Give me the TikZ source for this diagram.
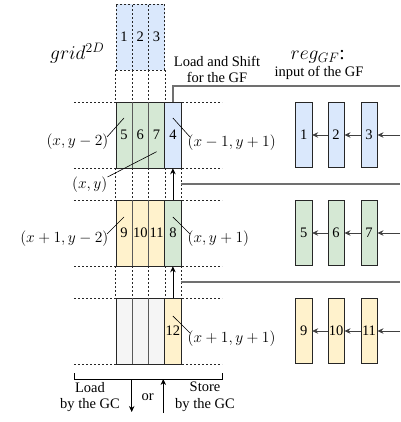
\RequirePackage{fix-cm}
\documentclass[tikz,border=0pt]{standalone}
\usepackage{fontspec}
\setmainfont{Liberation Serif}
\usetikzlibrary{arrows.meta,calc}
\definecolor{cblue}{HTML}{DAE8FC}
\definecolor{cgreen}{HTML}{D5E8D4}
\definecolor{cyellow}{HTML}{FFF2CC}
\definecolor{cgray}{HTML}{F5F5F5}
\definecolor{wirecol}{HTML}{707070}
\begin{document}
\begin{tikzpicture}[x=1pt,y=-1pt,
  cell/.style={draw=black!85, line width=0.6pt, minimum width=16.3pt, minimum height=66pt,
    inner sep=0pt, font=\fontsize{14.5}{16}\selectfont},
  topcell/.style={cell, dash pattern=on 2pt off 2pt},
  regcell/.style={cell, minimum height=65.5pt},
  sepline/.style={draw=black!65, line width=1.4pt},
  gridline/.style={black!85, line width=0.6pt, dash pattern=on 2pt off 2pt},
  wire/.style={draw=wirecol, line width=1.2pt},
  arr/.style={-{Stealth[length=6pt,width=5.5pt]}, line width=0.8pt},
  lead/.style={line width=0.6pt},
  mlab/.style={font=\fontsize{15.5}{18}\selectfont, inner sep=0pt},
  tlab/.style={font=\fontsize{14.5}{15.6}\selectfont, align=center, inner sep=0pt},
  biglab/.style={font=\fontsize{19.5}{22}\selectfont, inner sep=0pt}]
\useasboundingbox (0,0) rectangle (400,422);

% horizontal guide lines of the grid rows
\foreach \yy in {102,168,200,266,298,364}
  \draw[gridline] (74,\yy) -- (222,\yy);

% row above the window (dashed)
\node[topcell, fill=cblue] (b1) at (124,37) {1};
\node[topcell, fill=cblue] (b2) at (140.3,37) {2};
\node[topcell, fill=cblue] (b3) at (156.6,37) {3};

% first row
\node[cell, fill=cgreen] (r5) at (124,135) {5};
\node[cell, fill=cgreen] (r6) at (140.3,135) {6};
\node[cell, fill=cgreen] (r7) at (156.6,135) {7};
\node[cell, fill=cblue]  (r4) at (172.9,135) {4};
% second row
\node[cell, fill=cyellow] (r9)  at (124,233) {9};
\node[cell, fill=cyellow] (r10) at (140.3,233) {10};
\node[cell, fill=cyellow] (r11) at (156.6,233) {11};
\node[cell, fill=cgreen]  (r8)  at (172.9,233) {8};
% third row
\node[cell, fill=cgray] (s1) at (124,331) {};
\node[cell, fill=cgray] (s2) at (140.3,331) {};
\node[cell, fill=cgray] (s3) at (156.6,331) {};
\node[cell, fill=cyellow] (r12) at (172.9,331) {12};

% thicker separators inside the rows
\foreach \a in {r5,r6,r9,r10,s1,s2}
  \draw[sepline] (\a.north east) -- (\a.south east);

% dashed column lines between the rows
\draw[gridline] (b1.south west) -- (r5.north west);
\foreach \a/\b in {b1/r5,b2/r6,b3/r7}
  \draw[gridline] (\a.south east) -- (\b.north east);
\draw[gridline] (r5.south west) -- (r9.north west);
\foreach \a/\b in {r5/r9,r6/r10,r7/r11,r4/r8}
  \draw[gridline] (\a.south east) -- (\b.north east);
\draw[gridline] (r9.south west) -- (s1.north west);
\foreach \a/\b in {r9/s1,r10/s2,r11/s3,r8/r12}
  \draw[gridline] (\a.south east) -- (\b.north east);

% shifts between the rows
\draw[arr] (r8.north) -- (r4.south);
\draw[arr] (r12.north) -- (r8.south);

% registers of the GF
\node[regcell, fill=cblue] (g1) at (303.7,135) {1};
\node[regcell, fill=cblue] (g2) at (336,135) {2};
\node[regcell, fill=cblue] (g3) at (369,135) {3};
\node[regcell, fill=cgreen] (g5) at (303.7,233) {5};
\node[regcell, fill=cgreen] (g6) at (336,233) {6};
\node[regcell, fill=cgreen] (g7) at (369,233) {7};
\node[regcell, fill=cyellow] (g9)  at (303.7,331) {9};
\node[regcell, fill=cyellow] (g10) at (336,331) {10};
\node[regcell, fill=cyellow] (g11) at (369,331) {11};

\coordinate (in1) at (400,135);
\coordinate (in2) at (400,233);
\coordinate (in3) at (400,331);
\foreach \i/\c/\b/\a in {in1/g3/g2/g1,in2/g7/g6/g5,in3/g11/g10/g9}{
  \draw[arr, draw=black!75] (\i) -- (\c.west -| \c.east);
  \draw[arr, draw=black!75] (\c.west) -- (\b.east);
  \draw[arr, draw=black!75] (\b.west) -- (\a.east);
}

% wires to the GF
\coordinate (w1) at (400,86);
\coordinate (w2s) at ($(r4.south east)!0.5!(r8.north east)$);
\coordinate (w2) at (400,184);
\coordinate (w3s) at ($(r8.south east)!0.5!(r12.north east)$);
\coordinate (w3) at (400,282);
\draw[wire] (r4.north) |- (w1);
\draw[wire] (w2s) -- (w2 |- w2s);
\draw[wire] (w3s) -- (w3 |- w3s);

% coordinate labels
\node[mlab, anchor=east] (l1) at (108.5,142) {$(x,y-2)$};
\node[mlab, anchor=west] (l2) at (187.5,143) {$(x-1,y+1)$};
\node[mlab, anchor=east] (l3) at (107.5,185) {$(x,y)$};
\node[mlab, anchor=east] (l4) at (108.5,239) {$(x+1,y-2)$};
\node[mlab, anchor=west] (l5) at (187.5,239) {$(x,y+1)$};
\node[mlab, anchor=west] (l6) at (187.5,339) {$(x+1,y+1)$};
\draw[lead] ($(r5.center)+(0,-17)$) -- ($(l1.east)+(-1.5,-5)$);
\draw[lead] ($(r4.center)+(0,-17)$) -- ($(l2.west)+(2.5,-6)$);
\draw[lead] ($(r7.center)+(0,16.7)$) -- ($(l3.east)+(0,-8)$);
\draw[lead] ($(r9.center)+(0,-16)$) -- ($(l4.east)+(-1.5,-5)$);
\draw[lead] ($(r8.center)+(0,-16)$) -- ($(l5.west)+(2.5,-5)$);
\draw[lead] ($(r12.center)+(0,-15)$) -- ($(l6.west)+(2.5,-6)$);

% titles
\node[biglab, anchor=base west] (t1) at (50,60) {$grid^{2D}$};
\node[biglab, anchor=base west] (t2) at (290.5,59.5) {$reg_{GF}$:};
\node[tlab] (t3) at (217,69.5) {Load and Shift\\for the GF};
\node[tlab] (t4) at (319,73.3) {input of the GF};

% load / store by the GC
\coordinate (k1) at (74,373);
\coordinate (k2) at (74,379);
\coordinate (k3) at (222,379);
\coordinate (k4) at (222,373);
\draw[line width=0.8pt] (k1) -- (k2) -- (k3) -- (k4);
\coordinate (d1) at (131.7,379);
\coordinate (d2) at (131.7,412);
\coordinate (u1) at (163.3,413);
\coordinate (u2) at (163.3,379);
\draw[arr] (d1) -- (d2);
\draw[arr] (u1) -- (u2);
\node[tlab, font=\fontsize{14.5}{16.7}\selectfont] (t5) at (90,397) {Load\\by the GC};
\node[tlab] (t6) at (147.7,396.7) {or};
\node[tlab, font=\fontsize{14.5}{16.7}\selectfont] (t7) at (205,397) {Store\\by the GC};
\end{tikzpicture}
\end{document}
